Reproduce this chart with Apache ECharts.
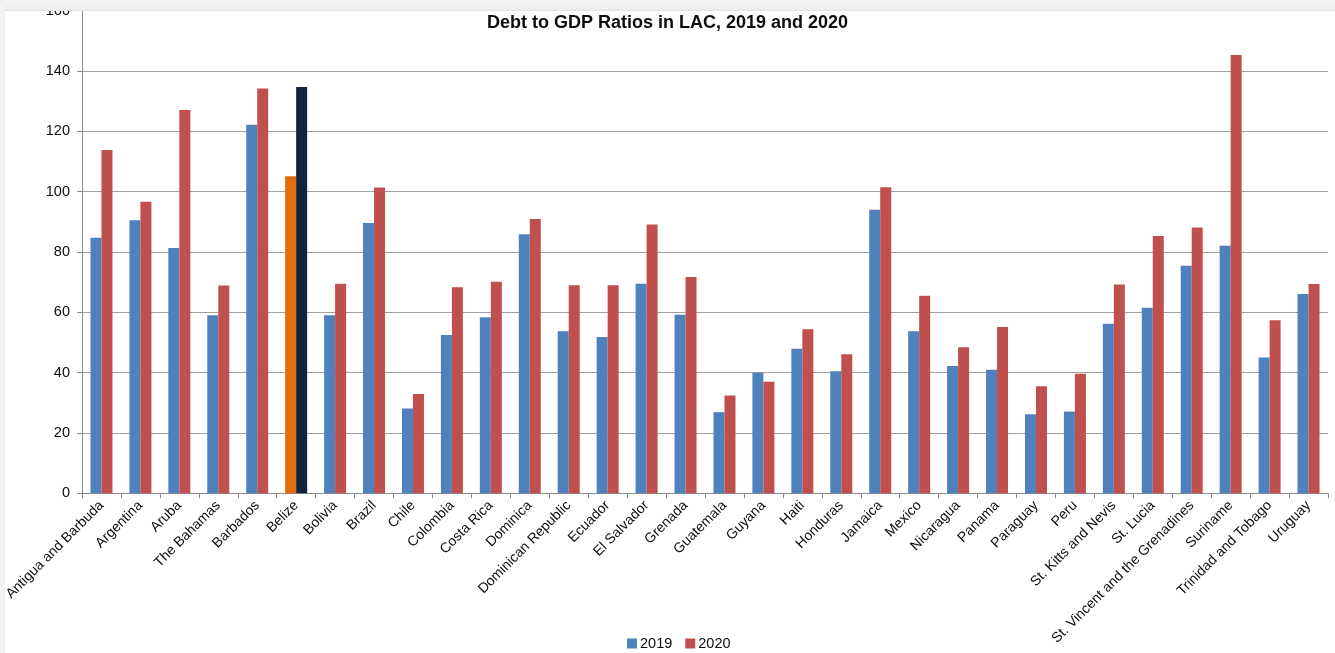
<!DOCTYPE html>
<html>
<head>
<meta charset="utf-8">
<script src="https://cdn.jsdelivr.net/npm/echarts@6/dist/echarts.min.js"></script>
<style>
html,body{margin:0;padding:0;background:#fff;}
#chart{width:1335px;height:653px;}
</style>
</head>
<body>
<div id="chart"></div>
<script>
const categories = ["Antigua and Barbuda","Argentina","Aruba","The Bahamas","Barbados","Belize","Bolivia","Brazil","Chile","Colombia","Costa Rica","Dominica","Dominican Republic","Ecuador","El Salvador","Grenada","Guatemala","Guyana","Haiti","Honduras","Jamaica","Mexico","Nicaragua","Panama","Paraguay","Peru","St. Kitts and Nevis","St. Lucia","St. Vincent and the Grenadines","Suriname","Trinidad and Tobago","Uruguay"];
const values2019 = [84.7,90.5,81.3,59.0,122.2,105.1,59.0,89.6,28.1,52.5,58.4,85.9,53.7,51.8,69.5,59.2,26.9,40.0,47.9,40.5,94.0,53.7,42.2,41.0,26.2,27.1,56.2,61.5,75.4,82.1,45.0,66.1];
const values2020 = [113.8,96.7,127.1,68.9,134.2,134.7,69.5,101.4,32.9,68.3,70.1,90.9,69.0,69.0,89.1,71.7,32.4,37.0,54.4,46.1,101.5,65.5,48.4,55.1,35.5,39.6,69.2,85.3,88.1,145.3,57.4,69.4];
const seriesNames = ["2019","2020"];
const highlightCategory = "Belize";

const C2019 = '#4F81BD', C2020 = '#C0504D', H2019 = '#E46C0A', H2020 = '#10243E';
const txt = '#0d0d0d';
const font = 'Liberation Sans, Arial, sans-serif';

function build(vals, hl) {
  return vals.map((v, i) => categories[i] === highlightCategory
    ? { value: v, itemStyle: { color: hl } } : v);
}

const chart = echarts.init(document.getElementById('chart'));
chart.setOption({
  animation: false,
  backgroundColor: '#fff',
  title: {
    text: 'Debt to GDP Ratios in LAC, 2019 and 2020',
    left: 'center', top: 9,
    textStyle: { fontFamily: font, fontSize: 18, fontWeight: 'bold', color: txt }
  },
  legend: {
    data: seriesNames,
    left: 622, top: 631,
    itemWidth: 10, itemHeight: 10, itemGap: 13,
    icon: 'rect',
    textStyle: { fontFamily: font, fontSize: 14.5, color: txt, padding: [0,0,0,-2] }
  },
  grid: { left: 82, right: 7, top: 10.7, bottom: 159.7, containLabel: false, outerBoundsMode: 'none' },
  xAxis: {
    type: 'category',
    data: categories,
    boundaryGap: true,
    axisLine: { lineStyle: { color: '#8c8c8c', width: 1 } },
    axisTick: { show: true, length: 5, alignWithLabel: false, lineStyle: { color: '#8c8c8c' } },
    axisLabel: { interval: 0, rotate: 45, fontFamily: font, fontSize: 14, color: txt, margin: 10 }
  },
  yAxis: {
    type: 'value',
    min: 0, max: 160, interval: 20,
    axisLine: { show: true, lineStyle: { color: '#8c8c8c', width: 1 } },
    axisTick: { show: true, length: 5, lineStyle: { color: '#8c8c8c' } },
    axisLabel: { fontFamily: font, fontSize: 14.5, color: txt, margin: 12 },
    splitLine: { lineStyle: { color: '#a0a0a0', width: 1 } }
  },
  series: [
    { name: seriesNames[0], type: 'bar', barWidth: 11, barGap: '0%',
      itemStyle: { color: C2019 }, data: build(values2019, H2019) },
    { name: seriesNames[1], type: 'bar', barWidth: 11, barGap: '0%',
      itemStyle: { color: C2020 }, data: build(values2020, H2020) }
  ],
  graphic: [
    { type: 'rect', z: 100, shape: { x: 0, y: 0, width: 1335, height: 11 },
      style: { fill: new echarts.graphic.LinearGradient(0,0,0,1,[{offset:0,color:'#f6f6f6'},{offset:0.8,color:'#efefef'},{offset:1,color:'#e2e2e2'}]) } },
    { type: 'rect', z: 100, shape: { x: 0, y: 0, width: 5, height: 653 },
      style: { fill: '#f2f2f2' } }
  ]
});
</script>
</body>
</html>
